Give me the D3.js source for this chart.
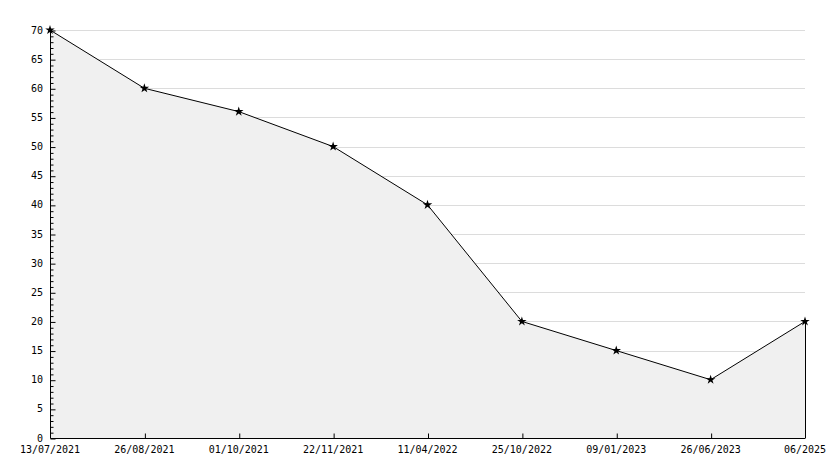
<!DOCTYPE html>
<html><head><meta charset="utf-8">
<script src="https://cdn.jsdelivr.net/npm/d3@7"></script>
<style>html,body{margin:0;padding:0;background:#fff;}svg{display:block;}</style>
</head><body>
<svg id="c" width="834" height="468"></svg>
<script>
const categories = ["13/07/2021","26/08/2021","01/10/2021","22/11/2021","11/04/2022","25/10/2022","09/01/2023","26/06/2023","06/2025"];
const values = [70,60,56,50,40,20,15,10,20];
const yTicks = [0,5,10,15,20,25,30,35,40,45,50,55,60,65,70];

const svg = d3.select("#c");
const L=50, R=805, T=30, B=438;
const x = d3.scalePoint().domain(categories).range([L,R]).padding(0);
const y = d3.scaleLinear().domain([0,70]).range([B,T]);
const font = "'DejaVu Sans Mono', monospace";

// gridlines
svg.append("g").selectAll("line").data(yTicks.filter(d=>d>0)).join("line")
  .attr("x1",L).attr("x2",R).attr("y1",d=>Math.round(y(d))+0.5).attr("y2",d=>Math.round(y(d))+0.5)
  .attr("stroke","#dcdcdc").attr("stroke-width",1);

const data = categories.map((c,i)=>({c, v:values[i]}));
// area
const area = d3.area().x(d=>x(d.c)).y0(B).y1(d=>y(d.v));
svg.append("path").datum(data).attr("d",area).attr("fill","#f0f0f0").attr("stroke","none");
// right edge of area
svg.append("line").attr("x1",x(categories[categories.length-1])+0.5).attr("x2",x(categories[categories.length-1])+0.5)
  .attr("y1",y(values[values.length-1])).attr("y2",B).attr("stroke","#000");
// line
const line = d3.line().x(d=>x(d.c)).y(d=>y(d.v));
svg.append("path").datum(data).attr("d",line).attr("fill","none").attr("stroke","#000").attr("stroke-width",1);

// axes
const yAxis = d3.axisRight(y).tickValues(d3.range(0,71,1)).tickSize(3).tickFormat("");
const gy = svg.append("g").attr("transform",`translate(${L+0.5},0.5)`).call(yAxis);
gy.selectAll(".tick line").attr("x2",d=>d%5===0?5:3).attr("stroke","#000");
gy.select(".domain").attr("stroke","#000").attr("d",`M0,${T}V${B}`);
svg.append("g").selectAll("text").data(yTicks).join("text")
  .attr("x",43).attr("y",d=>y(d)).attr("dy","0.35em").attr("text-anchor","end")
  .attr("font-family",font).attr("font-size",10).attr("fill","#000").text(d=>d);

const xAxis = d3.axisTop(x).tickSize(5).tickFormat("");
const gx = svg.append("g").attr("transform",`translate(0.5,${B+0.5})`).call(xAxis);
gx.select(".domain").attr("stroke","#000").attr("d",`M${L},0H${R}`);
gx.selectAll(".tick line").attr("stroke","#000").attr("opacity",(d,i)=>(i===0||i===categories.length-1)?0:1);
svg.append("g").selectAll("text").data(categories).join("text")
  .attr("x",d=>x(d)).attr("y",449).attr("dy","0.35em").attr("text-anchor","middle")
  .attr("font-family",font).attr("font-size",10).attr("fill","#000").text(d=>d);

// markers
svg.append("g").selectAll("path").data(data).join("path")
  .attr("transform",d=>`translate(${x(d.c)},${y(d.v)})`)
  .attr("d",d3.symbol(d3.symbolStar,28)).attr("fill","#000");
</script>
</body></html>
